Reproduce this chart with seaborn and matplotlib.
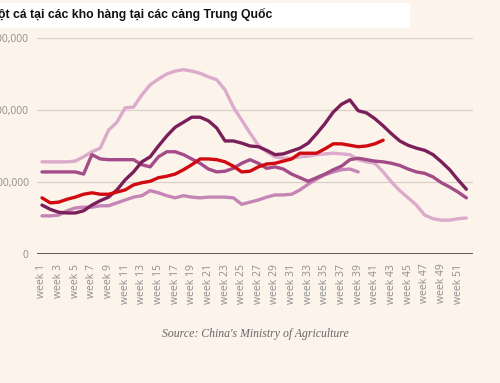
import numpy as np
import pandas as pd
import seaborn as sns
import matplotlib.pyplot as plt
from matplotlib.patches import Rectangle
from matplotlib.ticker import FuncFormatter

# stock levels in thousand tonnes
weeks = list(range(1, 53))
series_a = [128, 128, 128, 128, 129, 135, 142, 147, 172, 183, 203, 204, 221, 235, 243, 250,
            254, 256, 254, 251, 246, 242, 228, 204, 186, 168, 151, 142, 135, 133, 133, 135,
            136, 138, 139, 140, 139, 138, 131, 128, 126, 114, 100, 88, 78, 68, 54, 49, 47,
            47, 49, 50]
series_b = [114, 114, 114, 114, 114, 111, 138, 132, 131, 131, 131, 131, 124, 121, 135, 142,
            142, 138, 132, 126, 118, 114, 115, 119, 126, 131, 126, 119, 121, 118, 111, 106,
            101, 106, 111, 117, 122, 131, 133, 131, 129, 128, 126, 123, 118, 114, 112, 107,
            99, 93, 86, 78]
series_c = [53, 53, 54, 60, 64, 65, 65, 67, 67, 71, 75, 79, 81, 88, 85, 81, 78, 81, 79, 78,
            79, 79, 79, 78, 69, 72, 75, 79, 82, 82, 83, 89, 97, 104, 110, 114, 117, 118, 114]
series_d = [78, 71, 72, 76, 79, 83, 85, 83, 83, 86, 89, 96, 99, 101, 106, 108, 111, 117, 124,
            132, 132, 131, 128, 122, 114, 115, 121, 125, 126, 129, 132, 140, 140, 140, 146,
            153, 153, 151, 149, 150, 153, 158]
series_e = [68, 62, 58, 57, 57, 60, 68, 74, 79, 89, 103, 114, 128, 135, 150, 164, 176, 183,
            190, 190, 185, 175, 157, 157, 154, 150, 149, 144, 138, 139, 143, 147, 154, 167,
            181, 197, 208, 214, 199, 196, 188, 178, 167, 157, 151, 147, 144, 138, 128, 117,
            103, 90]

y_ticks = [0, 100000, 200000, 300000]
week_ticks = list(range(1, 52, 2))
week_labels = [f"week {w}" for w in week_ticks]

title = "ột cá tại các kho hàng tại các cảng Trung Quốc"
source = "Source: China's Ministry of Agriculture"

bg = "#fcf3eb"
sns.set_style("white", {"axes.facecolor": bg, "figure.facecolor": bg})
plt.rcParams["font.family"] = ["Open Sans", "DejaVu Sans"]

fig = plt.figure(figsize=(5, 3.83), dpi=100)
ax = fig.add_axes([0.074, 0.3368, 0.872, 0.564])

lines = [
    (series_a, "#dcaacb"),
    (series_c, "#c585b6"),
    (series_b, "#a34c88"),
    (series_e, "#7a1f5a"),
    (series_d, "#d00a10"),
]
for vals, col in lines:
    df = pd.DataFrame({"week": weeks[:len(vals)], "stock": np.array(vals) * 1000})
    sns.lineplot(data=df, x="week", y="stock", color=col, linewidth=2.4, ax=ax)

ax.set_xlim(0.4, 52.8)
ax.set_ylim(0, 300000)
ax.set_yticks(y_ticks)
ax.yaxis.set_major_formatter(FuncFormatter(lambda v, p: f"{v:,.0f}"))
ax.set_xticks(week_ticks)
ax.set_xticklabels(week_labels, rotation=90)
ax.tick_params(axis="both", length=0, colors="#8f8f8f", labelsize=7.5)
ax.tick_params(axis="y", pad=6)
ax.tick_params(axis="x", pad=7)
ax.set_xlabel("")
ax.set_ylabel("")
for s in ax.spines.values():
    s.set_visible(False)
for t in y_ticks[1:]:
    ax.axhline(t, color="#d8d0c8", linewidth=0.9, zorder=0)
ax.axhline(0, color="#5e5a56", linewidth=1.4, zorder=0)

# white title strip, cropped at the left edge like the source
fig.patches.append(Rectangle((0, 0.927), 0.82, 0.065, transform=fig.transFigure,
                             facecolor="white", edgecolor="none"))
fig.text(-0.004, 0.961, title, fontsize=8.8, fontweight="bold", color="#111111",
         family=["Liberation Sans", "DejaVu Sans"], va="center", ha="left")

fig.text(0.51, 0.128, source, fontsize=8.5, style="italic", color="#666666",
         family=["Liberation Serif", "DejaVu Serif"], ha="center", va="center")

fig.savefig("out.png", dpi=100, facecolor=bg)
